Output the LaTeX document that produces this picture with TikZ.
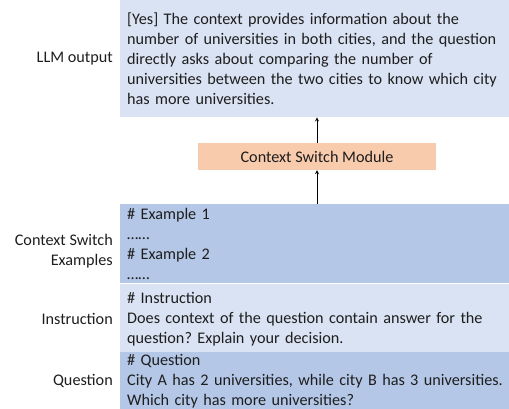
\documentclass[tikz,border=0pt]{standalone}
\usepackage{fontspec}
\setmainfont{Carlito}
\usepackage{xcolor}
\usetikzlibrary{positioning,calc}
\definecolor{paleblue}{HTML}{DAE3F3}
\definecolor{midblue}{HTML}{B4C7E7}
\definecolor{peach}{HTML}{F8CBAD}
\definecolor{txtgray}{HTML}{1E1E1E}
\frenchspacing

\begin{document}
\begin{tikzpicture}[
    x=1pt, y=1pt,
    font=\fontsize{16.2}{20}\selectfont, text=txtgray,
    node distance=7pt,
    box/.style={rectangle, anchor=north west, text width=384pt, align=left, inner xsep=7pt, inner ysep=0pt},
    tag/.style={align=right, inner sep=0pt},
    module/.style={rectangle, fill=peach, minimum width=238pt, minimum height=27pt},
    arrow/.style={->, >=stealth, line width=0.8pt}
]
    \useasboundingbox (0,0) rectangle (509,-409);

    % Nodes
    \node[box, fill=paleblue, minimum height=117pt] (output) at (120,0)
        {[Yes] The context provides information about the\\
         number of universities in both cities, and the question\\
         directly asks about comparing the number of\\
         universities between the two cities to know which city\\
         has more universities.};
    \node[module] (switch) at (317,-156.5) {Context Switch Module};
    \node[box, fill=midblue, minimum height=79pt] (examples) at (120,-204)
        {\# Example 1\\ ……\\ \# Example 2\\ ……};
    \node[box, fill=paleblue, minimum height=71pt] (instruction) at (examples.south west)
        {\# Instruction\\
         Does context of the question contain answer for the\\
         question? Explain your decision.};
    \node[box, fill=midblue, minimum height=58pt] (question) at ([yshift=3pt]instruction.south west)
        {\# Question\\
         City A has 2 universities, while city B has 3 universities.\\
         Which city has more universities?};

    % Labels
    \node[tag, left=of output.west] (outputtag) {LLM output};
    \node[tag, left=of examples.west, yshift=-7pt] (examplestag) {Context Switch\\Examples};
    \node[tag, left=of instruction.west] (instructiontag) {Instruction};
    \node[tag, left=of question.west] (questiontag) {Question};

    % Arrows
    \draw[arrow] (switch.north) -- (switch.north |- output.south);
    \draw[arrow] (switch.south |- examples.north) -- (switch.south);
\end{tikzpicture}
\end{document}
